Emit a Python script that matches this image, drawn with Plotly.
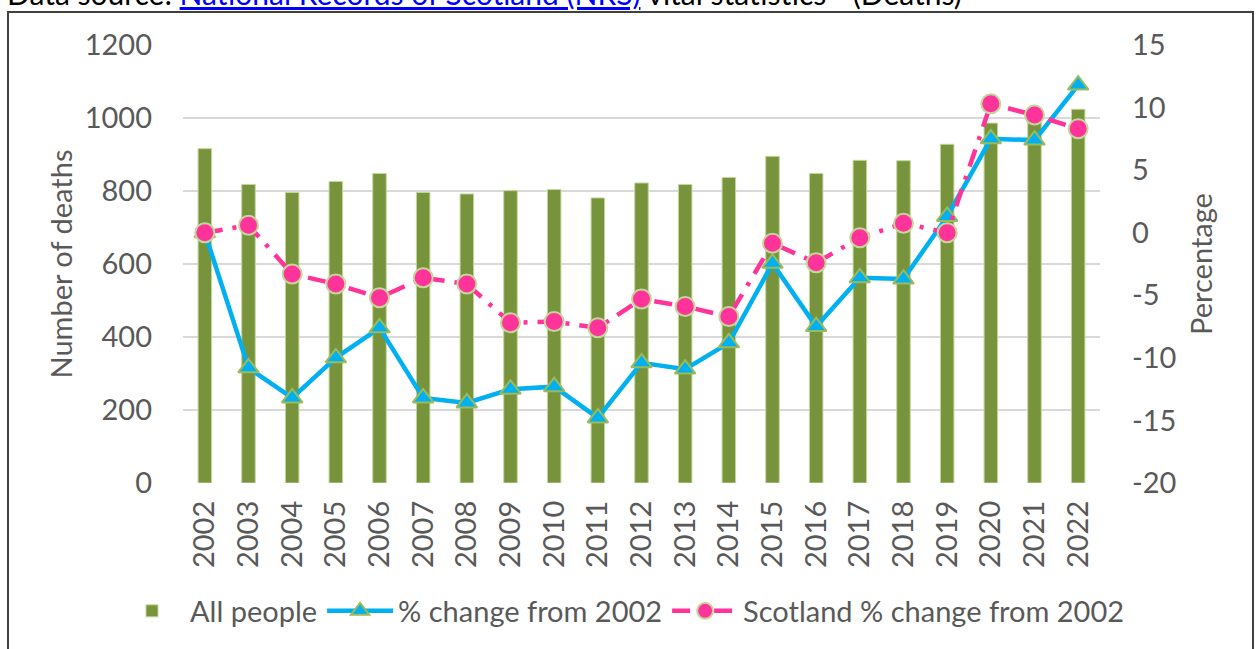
import plotly.graph_objects as go

years = [str(y) for y in range(2002, 2023)]
all_people = [916, 818, 796, 826, 848, 796, 792, 801, 804, 781, 822, 818, 837, 895, 848, 884, 883, 928, 986, 993, 1024]
pct_change = [0.0, -10.8, -13.2, -10.0, -7.6, -13.2, -13.6, -12.5, -12.3, -14.8, -10.4, -10.9, -8.8, -2.45, -7.5, -3.6, -3.7, 1.3, 7.5, 7.4, 11.8]
scot_change = [0.0, 0.6, -3.3, -4.1, -5.2, -3.6, -4.1, -7.2, -7.1, -7.6, -5.3, -5.9, -6.7, -0.85, -2.4, -0.4, 0.75, 0.0, 10.3, 9.4, 8.3]

left_ticks = [0, 200, 400, 600, 800, 1000, 1200]
right_ticks = [-20, -15, -10, -5, 0, 5, 10, 15]
right_tick_text = ["-20", "-15", "-10", "-5", "0", "5", "10", "15"]

FONT = "Lato"
GREY = "#595959"
FS = 29

W, H = 1256, 649
L, T = 183, 45
PR, PB = 1100, 483          # plot right / bottom in pixels
PW, PH = PR - L, PB - T


def px(xf):
    return (xf - L) / PW


def py(yf):
    return (PB - yf) / PH


fig = go.Figure()
fig.add_trace(go.Bar(
    x=years, y=all_people, name="All people",
    marker=dict(color="#77933C", line=dict(color="#C4D79B", width=1)),
    width=0.31,
))
fig.add_trace(go.Scatter(
    x=years, y=pct_change, name="% change from 2002", yaxis="y2",
    mode="lines+markers",
    line=dict(color="#00B0F0", width=4.5),
    marker=dict(symbol="triangle-up", size=18, color="#00B0F0",
                line=dict(color="#9BBB59", width=2)),
))
fig.add_trace(go.Scatter(
    x=years, y=scot_change, name="Scotland % change from 2002", yaxis="y2",
    mode="lines+markers",
    line=dict(color="#FF3399", width=4.5, dash="18px,10px,4px,10px"),
    marker=dict(symbol="circle", size=19, color="#FF3399",
                line=dict(color="#C4D79B", width=2)),
))

fig.update_layout(
    width=W, height=H,
    margin=dict(l=L, r=W - PR, t=T, b=H - PB, autoexpand=False),
    paper_bgcolor="white", plot_bgcolor="white",
    font=dict(family=FONT, size=FS, color=GREY),
    showlegend=True,
    legend=dict(orientation="h", x=px(114), xanchor="left",
                y=py(611), yanchor="middle", itemwidth=66,
                traceorder="normal",
                font=dict(family=FONT, size=FS, color=GREY)),
    xaxis=dict(type="category", range=[-0.5, 20.5], tickangle=-90, showgrid=False,
               showline=False, ticks="", ticklabelstandoff=11,
               tickfont=dict(family=FONT, size=FS, color=GREY)),
    yaxis=dict(range=[0, 1200], tickvals=left_ticks, showgrid=True, gridcolor="#D9D9D9",
               gridwidth=2, zeroline=False, showline=False, ticks="",
               ticklabelstandoff=30,
               tickfont=dict(family=FONT, size=FS, color=GREY),
               title=dict(text="Number of deaths", standoff=3,
                          font=dict(family=FONT, size=FS, color=GREY))),
    yaxis2=dict(range=[-20, 15], tickvals=right_ticks, ticktext=right_tick_text,
                overlaying="y", side="right", showgrid=False, zeroline=False,
                showline=False, ticks="", ticklabelstandoff=31,
                tickfont=dict(family=FONT, size=FS, color=GREY),
                title=dict(text="Percentage", standoff=16,
                           font=dict(family=FONT, size=FS, color=GREY))),
    bargap=0.69,
)

# outer frame
fig.add_shape(type="rect", xref="paper", yref="paper",
              x0=px(8), x1=px(1253), y0=py(720), y1=py(12),
              line=dict(color="#404040", width=2), fillcolor="rgba(0,0,0,0)", layer="below")

# data source line (partially cut at top of the page)
fig.add_annotation(
    xref="paper", yref="paper", x=px(5), y=py(13),
    xanchor="left", yanchor="bottom", showarrow=False,
    text=("Data source: <a href='https://www.nrscotland.gov.uk/' "
          "style='color:#0000FF;text-decoration:underline'>National Records of Scotland (NRS)</a>"
          " vital statistics - (Deaths)"),
    font=dict(family=FONT, size=30, color="#000000"),
)

fig.write_html("out.html", config={"displayModeBar": False},
               post_script="document.body.style.margin='0';document.body.style.overflow='hidden';")
